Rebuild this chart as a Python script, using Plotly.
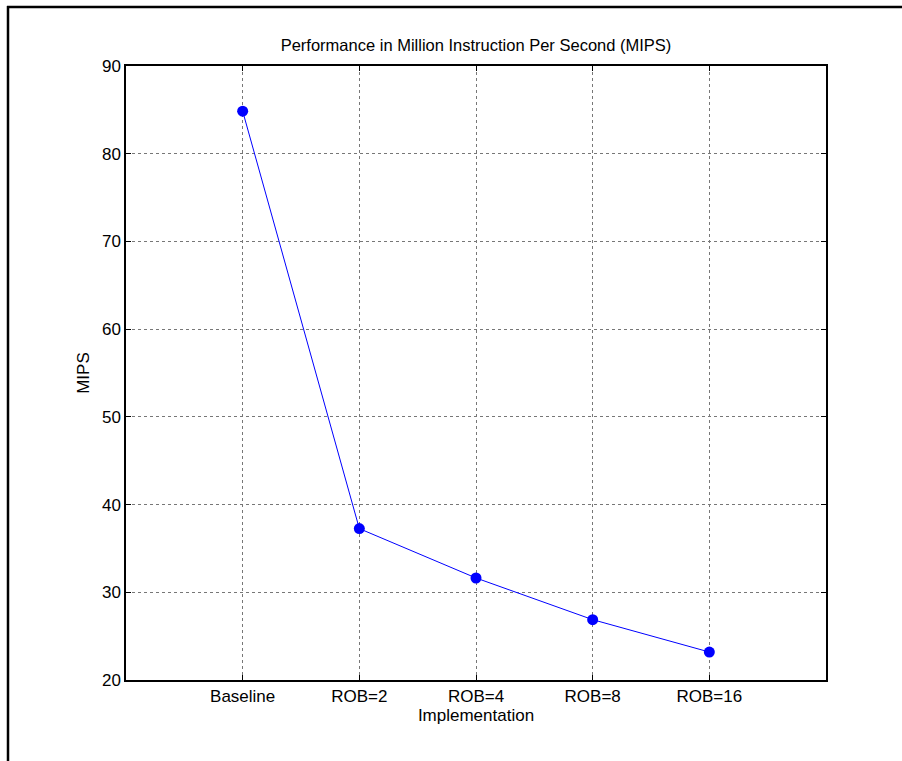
import plotly.graph_objects as go

categories = ["Baseline", "ROB=2", "ROB=4", "ROB=8", "ROB=16"]
positions = [1, 2, 3, 4, 5]
mips = [84.85, 37.26, 31.63, 26.88, 23.19]
y_ticks = [20, 30, 40, 50, 60, 70, 80, 90]

FONT = "Liberation Sans, Arial, Helvetica, sans-serif"

fig = go.Figure()
fig.add_trace(go.Scatter(
    x=positions, y=mips, mode="lines+markers",
    line=dict(color="#0000ff", width=1),
    marker=dict(color="#0000ff", size=11),
    showlegend=False,
))

L, R, T, B = 126, 76, 66, 81
W, H = 902, 761
pw, ph = W - L - R, H - T - B

def px(xp):
    return (xp - L) / pw

def py(yp):
    return (H - B - yp) / ph

fig.update_layout(
    width=W, height=H,
    margin=dict(l=L, r=R, t=T, b=B, pad=0),
    paper_bgcolor="white", plot_bgcolor="white",
    font=dict(family=FONT, size=17, color="black"),
    title=dict(text="Performance in Million Instruction Per Second (MIPS)",
               x=0.5, xref="paper", xanchor="center",
               y=1 - 45.5 / H, yanchor="middle",
               font=dict(family=FONT, size=16.5, color="black")),
    xaxis=dict(
        range=[0, 6], tickmode="array", tickvals=positions, ticktext=categories,
        showgrid=True, gridcolor="#777777", griddash="dot", gridwidth=1,
        showline=True, linecolor="black", linewidth=1.5, mirror="allticks",
        ticks="inside", ticklen=5, tickcolor="black",
        zeroline=False,
        title=dict(text="Implementation", standoff=4, font=dict(family=FONT, size=17)),
        tickfont=dict(family=FONT, size=17),
    ),
    yaxis=dict(
        range=[20, 90], tickmode="array", tickvals=y_ticks,
        showgrid=True, gridcolor="#777777", griddash="dot", gridwidth=1,
        showline=True, linecolor="black", linewidth=1.5, mirror="allticks",
        ticks="inside", ticklen=5, tickcolor="black",
        zeroline=False,
        title=dict(text="MIPS", standoff=8, font=dict(family=FONT, size=17)),
        tickfont=dict(family=FONT, size=17),
    ),
    shapes=[
        dict(type="line", xref="paper", yref="paper",
             x0=px(8), x1=px(8), y0=py(6), y1=py(H + 5),
             line=dict(color="black", width=2.5)),
        dict(type="line", xref="paper", yref="paper",
             x0=px(7), x1=px(W + 5), y0=py(7), y1=py(7),
             line=dict(color="black", width=2.5)),
    ],
)

fig.write_html(
    "out.html",
    config={"displayModeBar": False},
    post_script="document.body.style.margin='0';document.body.style.overflow='hidden';",
)
